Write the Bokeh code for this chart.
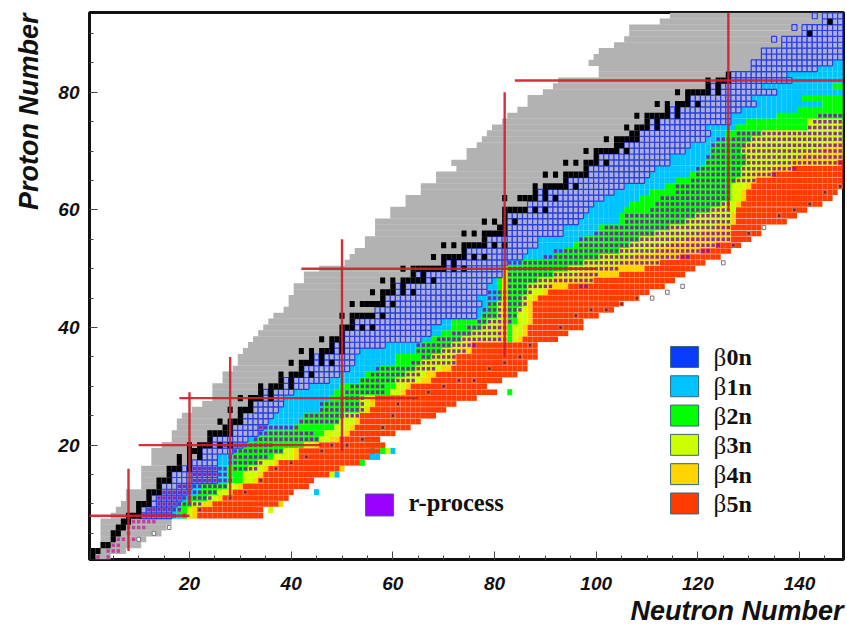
from bokeh.embed import file_html
from bokeh.resources import INLINE
from bokeh.plotting import figure
from bokeh.models import FixedTicker, Label, Title

TICKS_X = [20, 40, 60, 80, 100, 120, 140]
TICKS_Y = [20, 40, 60, 80]
MINOR = list(range(5, 150, 5))
MAGIC_V = [(8, 2, 16), (20, 10, 29), (28, 11, 35), (50, 19, 55), (82, 35, 80), (126, 60, 93.6)]
MAGIC_H = [(8, 0.3, 20), (20, 10, 46), (28, 18, 65), (50, 42, 100), (82, 84, 148.7)]

GRAY_FIRST = [0, 1, 3, 3, 3, 3, 3, 5, 6, 7,
              8, 8, 11, 11, 11, 11, 13, 13, 13, 15,
              17, 17, 18, 18, 19, 21, 23, 25, 25, 25,
              27, 27, 29, 30, 30, 31, 32, 33, 34, 35,
              36, 37, 39, 40, 40, 41, 41, 43, 43, 46,
              51, 52, 53, 55, 55, 57, 57, 57, 60, 60,
              63, 63, 66, 66, 69, 69, 73, 72, 75, 75,
              77, 78, 79, 80, 82, 83, 85, 87, 87, 90,
              92, 93, 101, 101, 99, 100, 101, 104, 106, 107,
              107, 113, 115]
GRAY_LAST_LOW = [4, 7, 10, 11, 14, 15, 16]

# Z = 8 .. 93
FIRST_N = [11, 11, 13, 13, 15, 15, 17, 17, 19, 21, 23, 23, 25, 25, 29, 29, 31, 31, 33, 33, 35, 35,
           39, 39, 43, 43, 45, 45, 49, 49, 51, 51, 53, 53, 57, 57, 59, 59, 61, 61, 67, 65, 71, 71,
           75, 75, 79, 79, 83, 83, 83, 83, 87, 87, 89, 89, 95, 95, 99, 99, 101, 101, 105, 106,
           109, 109, 111, 111, 115, 115, 119, 119, 123, 123, 127, 127, 131, 131, 133, 133, 137,
           137, 141, 141, 145, 145]

# last N of each band per Z = 8 .. 85 (left part)
END_B0 = [16, 16, 17, 18, 19, 20, 25, 25, 25, 25, 25, 28, 30, 31, 33, 34, 35, 36, 37, 38, 38,
          40, 43, 47, 49, 51, 52, 52, 53, 58,
          65, 67, 67, 69, 76, 76, 77, 76, 78, 78, 79, 81, 81,
          82, 85, 86, 88, 88, 93, 93,
          96, 97, 98, 99, 101, 103, 105, 109, 110, 111, 114, 114, 117, 118, 121, 122, 121] + [126] * 11
END_B1 = [18, 17, 18, 19, 21, 22, 27, 27, 27, 28, 28, 29, 31, 33, 35, 40, 41, 42, 45, 46, 47,
          48, 49, 53, 54, 57, 60, 60, 64, 65,
          67, 69, 71, 71, 77, 78, 78, 80, 80, 80, 80, 81, 81,
          85, 91, 93, 95, 97, 100, 100,
          104, 104, 105, 106, 108, 110, 113, 115, 118, 120, 121, 122, 122, 123, 125, 125, 126] + [126] * 11
END_B2 = [19, 19, 20, 23, 25, 27, 30, 30, 31, 33, 36, 38, 42, 45, 46, 48, 49, 50, 53, 53, 53,
          59, 60, 60, 62, 64, 65, 67, 69, 71,
          73, 75, 77, 78, 80, 80, 80, 81, 81, 81, 81, 81, 81,
          97, 100, 104, 106, 108, 111, 114,
          117, 119, 122, 124, 126, 126, 126, 126, 126, 126] + [126] * 18
END_B3 = [20, 20, 22, 25, 27, 29, 32, 33, 34, 36, 40, 40, 44, 47, 50, 51, 52, 52, 54, 55, 55,
          61, 62, 65, 66, 69, 71, 71, 73, 74,
          80, 80, 80, 81, 81, 81, 81, 81, 81, 81, 81, 81, 81,
          104, 107, 111, 114, 117, 120, 123,
          126, 126, 126, 126, 126, 126, 126] + [126] * 21
END_B4 = [21, 21, 24, 26, 28, 30, 33, 34, 35, 37, 41, 41, 45, 49, 51, 52, 53, 53, 55, 56, 56,
          62, 63, 67, 68, 71, 72, 72, 75, 75] + [82] * 13 + [112, 116, 120, 123, 126, 126, 126] + [126] * 28
END_B5 = [34, 34, 37, 39, 40, 43, 44, 47, 49, 53, 55, 57, 58, 57, 60, 63, 65, 68, 70, 72, 76,
          80, 78, 81, 84, 86, 86, 88, 88, 88] + [82] * 13 + [121, 124, 126, 128, 130, 132, 132] + [126] * 28

# part of the rows beyond N = 82, Z = 38 .. 50
P82_B2 = [83, 83, 83, 84, 84, 84, 85, 85, 86, 86, 88, 91, 94]
P82_B3 = [84, 85, 85, 86, 86, 86, 86, 87, 89, 90, 91, 96, 100]
P82_B4 = [85, 86, 86, 87, 87, 87, 87, 88, 90, 94, 99, 104, 109]
P82_B5 = [92, 94, 97, 97, 100, 103, 104, 108, 110, 113, 115, 117, 119]

# part of the rows beyond N = 126, Z = 58 .. 85
P126_B0 = [126] * 19 + [128, 131, 130, 135, 132, 138, 137, 143, 146]
P126_B1 = [126] * 16 + [127, 129, 135, 139, 144, 140, 148, 146, 148, 148, 148, 148]
P126_B2 = [126] * 7 + [127, 128, 128, 129, 129, 128, 129, 130, 132, 141, 141, 148] + [148] * 9
P126_B3 = [126, 126, 127, 127, 128, 128, 129, 130, 131, 134, 138, 140, 144, 146] + [148] * 14
P126_B4 = [127, 127, 127, 128, 129, 129, 130, 131, 134, 138, 147, 148] + [148] * 16
P126_B5 = [137, 139, 141, 144, 146, 147] + [148] * 22

EXTRA_BLUE = [(143, 93), (139, 91), (135, 89)]
EXTRA_CELLS = {1: [(56, 18), (57, 18), (56, 19), (60, 19), (49, 15), (45, 12)],
               2: [(54, 17), (58, 19), (83, 29)],
               3: [(59, 19), (48, 15), (36, 9)],
               4: [(50, 16), (38, 10)]}
UNKNOWN_N = [133, 125, 117, 114, 111, 16, 10, 13]
UNKNOWN_Z = [57, 51, 47, 46, 45, 6, 4, 5]
PATH_N = [108, 105, 102, 99, 96, 93, 85, 82, 87, 79, 76, 73, 70, 67, 64, 61, 60, 58, 54, 51, 48, 46,
          43, 40, 37, 34, 31, 28, 22, 19, 127, 130, 136, 139, 142, 145, 148]
PATH_Z = [45, 44, 43, 43, 42, 40, 35, 34, 37, 33, 31, 31, 30, 29, 28, 27, 25, 23, 21, 20, 20, 19,
          18, 17, 16, 14, 12, 11, 9, 8, 54, 56, 59, 60, 61, 63, 64]

R_PROCESS = {1: [(1, 2), (4, 4)], 2: [(4, 6)], 3: [(5, 6)], 4: [(5, 7), (9, 9)], 5: [(8, 8)], 6: [(8, 11)],
             7: [(8, 13)], 8: [(10, 17)], 9: [(12, 18)], 10: [(14, 22)], 11: [(14, 24)], 12: [(14, 25)],
             13: [(18, 27)], 14: [(21, 28)], 15: [(21, 27)], 16: [(21, 27), (29, 33)], 17: [(28, 34)],
             18: [(28, 35)], 19: [(29, 38)], 20: [(26, 36)], 21: [(33, 45)], 22: [(34, 44)], 23: [(34, 41)],
             24: [(42, 49)], 25: [(43, 53)], 26: [(46, 54)], 27: [(46, 54)], 28: [(50, 54)], 29: [(51, 58)],
             30: [(52, 58)], 31: [(54, 64)], 32: [(56, 65)], 33: [(57, 68)], 34: [(64, 72)], 35: [(66, 72)],
             36: [(65, 74)], 37: [(65, 76)], 38: [(69, 82)], 39: [(72, 82)], 40: [(75, 82)], 41: [(77, 83)],
             42: [(78, 84)], 43: [(78, 85)], 44: [(79, 86)], 45: [(79, 86)], 46: [(79, 87)],
             47: [(83, 91), (97, 98)], 48: [(83, 99)], 49: [(83, 100)], 50: [(83, 104)], 51: [(83, 112)],
             52: [(90, 118)], 53: [(92, 122)], 54: [(97, 124)], 55: [(97, 126)], 56: [(100, 126)],
             57: [(102, 126)], 58: [(106, 126)], 59: [(106, 126)], 60: [(111, 126)], 61: [(112, 126)],
             62: [(113, 126)], 63: [(116, 126)], 64: [(116, 126)], 65: [(119, 131)], 66: [(120, 135)],
             67: [(120, 139)], 68: [(122, 148)], 69: [(122, 148)], 70: [(123, 148)], 71: [(123, 148)],
             72: [(124, 148)], 73: [(128, 148)], 74: [(142, 148)], 75: [(143, 148)], 76: [(144, 148)]}

STABLE = {1: [0, 1], 2: [1, 2], 3: [3, 4], 4: [5], 5: [5, 6], 6: [6, 7], 7: [7, 8], 8: [8, 9, 10], 9: [10],
          10: [10, 11, 12], 11: [12], 12: [12, 13, 14], 13: [14], 14: [14, 15, 16], 15: [16], 16: [16, 17, 18, 20],
          17: [18, 20], 18: [18, 20, 22], 19: [20, 21, 22], 20: [20, 22, 23, 24, 26, 28], 21: [24],
          22: [24, 25, 26, 27, 28], 23: [27, 28], 24: [26, 28, 29, 30], 25: [30], 26: [28, 30, 31, 32], 27: [32],
          28: [30, 32, 33, 34, 36], 29: [34, 36], 30: [34, 36, 37, 38, 40], 31: [38, 40], 32: [38, 40, 41, 42, 44],
          33: [42], 34: [40, 42, 43, 44, 46, 48], 35: [44, 46], 36: [42, 44, 46, 47, 48, 50], 37: [48, 50],
          38: [46, 48, 49, 50], 39: [50], 40: [50, 51, 52, 54, 56], 41: [52], 42: [50, 52, 53, 54, 55, 56, 58],
          44: [52, 54, 55, 56, 57, 58, 60], 45: [58], 46: [56, 58, 59, 60, 62, 64], 47: [60, 62],
          48: [58, 60, 62, 63, 64, 65, 66, 68], 49: [64, 66], 50: [62, 64, 65, 66, 67, 68, 69, 70, 72, 74],
          51: [70, 72], 52: [68, 70, 71, 72, 73, 74, 76, 78], 53: [74], 54: [70, 72, 74, 75, 76, 77, 78, 80, 82],
          55: [78], 56: [74, 76, 78, 79, 80, 81, 82], 57: [81, 82], 58: [78, 80, 82, 84], 59: [82],
          60: [82, 83, 84, 85, 86, 88, 90], 62: [82, 85, 86, 87, 88, 90, 92], 63: [88, 90],
          64: [88, 90, 91, 92, 93, 94, 96], 65: [94], 66: [90, 92, 94, 95, 96, 97, 98], 67: [98],
          68: [94, 96, 98, 99, 100, 102], 69: [100], 70: [98, 100, 101, 102, 103, 104, 106], 71: [104, 105],
          72: [102, 104, 105, 106, 107, 108], 73: [107, 108], 74: [106, 108, 109, 110, 112], 75: [110, 112],
          76: [108, 110, 111, 112, 113, 114, 116], 77: [114, 116], 78: [112, 114, 116, 117, 118, 120], 79: [118],
          80: [116, 118, 119, 120, 121, 122, 124], 81: [122, 124], 82: [122, 124, 125, 126], 83: [126],
          90: [142], 92: [146]}

LEGEND_NAMES = ["0n", "1n", "2n", "3n", "4n", "5n"]
BAND_COLORS = ["#0a3cff", "#00c4ff", "#00ff00", "#ccff00", "#ffd400", "#ff3c00"]

X0, X1, Y0, Y1 = 0.33, 148.65, 0.56, 93.56
p = figure(width=846, height=626, x_range=(X0, X1), y_range=(Y0, Y1), output_backend="svg",
           toolbar_location=None, min_border_left=89, min_border_right=3, min_border_top=12,
           min_border_bottom=65, background_fill_color="white")
p.grid.visible = False
p.outline_line_color = "#111111"
p.outline_line_width = 3
for ax, ticks in ((p.xaxis, TICKS_X), (p.yaxis, TICKS_Y)):
    ax.ticker = FixedTicker(ticks=ticks, minor_ticks=MINOR)
    ax.major_tick_in = 8
    ax.major_tick_out = 0
    ax.minor_tick_in = 4
    ax.minor_tick_out = 0
    ax.major_tick_line_color = "#444444"
    ax.minor_tick_line_color = "#444444"
    ax.axis_line_color = None
    ax.major_label_text_font = "Liberation Sans"
    ax.major_label_text_font_style = "bold italic"
    ax.major_label_text_font_size = "19px"
    ax.major_label_text_color = "#111111"
p.xaxis.major_label_standoff = 17
p.yaxis.major_label_standoff = 10

p.add_layout(Title(text="Neutron Number", align="right", text_font="Liberation Sans", text_font_style="bold italic",
                   text_font_size="27px", text_color="#111111", standoff=2), "below")
p.add_layout(Title(text="Proton Number", align="right", vertical_align="middle", text_font="Liberation Sans",
                   text_font_style="bold italic", text_font_size="27px", text_color="#111111",
                   standoff=22, offset=1), "left")


def px_n(px):
    return (px - 87.3) / 5.083


def py_z(py):
    return 20 + (446 - py) / 5.9


# gray: known nuclei
g_left, g_right, g_z = [], [], []
for i, lo in enumerate(GRAY_FIRST):
    z = i + 1
    hi = GRAY_LAST_LOW[i] if z < 8 else FIRST_N[z - 8] - 1
    g_left.append(lo - 0.5)
    g_right.append(hi + 0.5)
    g_z.append(z)
p.hbar(y=g_z, left=g_left, right=g_right, height=1.04, fill_color="#b2b2b2", line_color=None)

cells = {k: ([], []) for k in range(6)}


def fill(z, start, ends):
    n = start
    for k, end in enumerate(ends):
        while n <= min(end, 148):
            cells[k][0].append(n)
            cells[k][1].append(z)
            n += 1
    return n


for i in range(len(FIRST_N)):
    z = i + 8
    if z > 85:
        fill(z, FIRST_N[i], [148])
        continue
    j = z - 8
    n = fill(z, FIRST_N[i], [END_B0[j], END_B1[j], END_B2[j], END_B3[j], END_B4[j], END_B5[j]])
    if 38 <= z <= 50:
        m = z - 38
        fill(z, max(n, 83), [0, 0, P82_B2[m], P82_B3[m], P82_B4[m], P82_B5[m]])
    if z >= 58:
        m = z - 58
        fill(z, max(n, 127), [P126_B0[m], P126_B1[m], P126_B2[m], P126_B3[m], P126_B4[m], P126_B5[m]])

for n, z in EXTRA_BLUE:
    cells[0][0].append(n)
    cells[0][1].append(z)
for k, items in EXTRA_CELLS.items():
    for n, z in items:
        cells[k][0].append(n)
        cells[k][1].append(z)

for k in range(1, 6):
    p.rect(x=cells[k][0], y=cells[k][1], width=1, height=0.94 if k == 5 else 1.03,
           fill_color=BAND_COLORS[k], line_color=None)
p.rect(x=cells[0][0], y=cells[0][1], width=1, height=1, fill_color="#abaed6", line_color="#2a40e0", line_width=1.2)

p.rect(x=UNKNOWN_N, y=UNKNOWN_Z, width=0.7, height=0.7, fill_color="white", line_color="#777777", line_width=1)

r_n, r_z, r_c = [], [], []
for z, ranges in R_PROCESS.items():
    for lo, hi in ranges:
        for n in range(lo, hi + 1):
            r_n.append(n)
            r_z.append(z)
            r_c.append("#c8309c" if z < 8 else "#7c18a8")
p.rect(x=r_n, y=r_z, width=0.66, height=0.6, fill_color=r_c, fill_alpha=0.88, line_color=None)
p.rect(x=PATH_N, y=PATH_Z, width=0.7, height=0.65, fill_color="#8a1c1c", line_color="#d07050", line_width=1)

s_n, s_z = [], []
for z, ns in STABLE.items():
    for n in ns:
        s_n.append(n)
        s_z.append(z)
p.rect(x=s_n, y=s_z, width=1, height=1.03, fill_color="black", line_color=None)

for n, lo, hi in MAGIC_V:
    p.line([n, n], [lo, hi], line_color="#d0202c", line_width=2.4, line_alpha=0.92)
for z, lo, hi in MAGIC_H:
    p.line([lo, hi], [z, z], line_color="#d0202c", line_width=2.4, line_alpha=0.92)

# legend
SW_N0, SW_N1 = px_n(670), px_n(698)
for i, (name, col) in enumerate(zip(LEGEND_NAMES, BAND_COLORS)):
    top = 347 + i * 29.4
    p.quad(left=SW_N0, right=SW_N1, top=py_z(top), bottom=py_z(top + 21), fill_color=col,
           line_color="#336677", line_width=1)
    base = py_z(top + 11)
    p.add_layout(Label(x=px_n(713), y=base, text="\u03b2", text_font="Liberation Serif", text_font_size="25px",
                       text_color="#111111", text_baseline="alphabetic"))
    p.add_layout(Label(x=px_n(726), y=base, text=name, text_font="Liberation Serif", text_font_style="bold",
                       text_font_size="24px", text_color="#111111", text_baseline="alphabetic"))
p.quad(left=px_n(365), right=px_n(393), top=py_z(495), bottom=py_z(517), fill_color="#9900ff",
       line_color="#555599", line_width=1)
p.add_layout(Label(x=px_n(408), y=py_z(504), text="r-process", text_font="Liberation Serif", text_font_style="bold",
                   text_font_size="24.5px", text_color="#111111", text_baseline="alphabetic"))

open("out.html", "w").write(file_html(p, INLINE))
